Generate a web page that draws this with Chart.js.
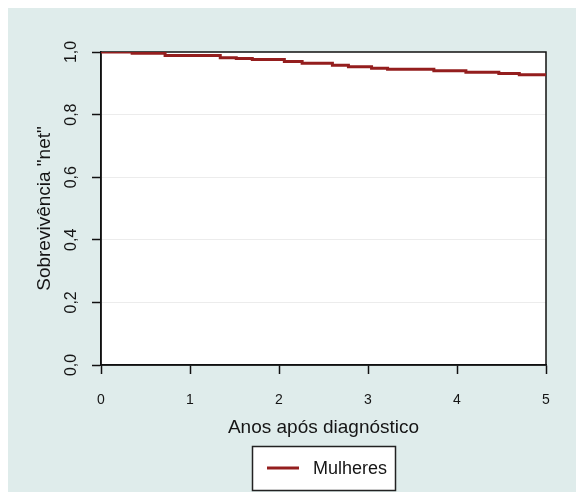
<!DOCTYPE html>
<html>
<head>
<meta charset="utf-8">
<script src="https://cdn.jsdelivr.net/npm/chart.js@4.4.1/dist/chart.umd.min.js"></script>
<style>
  html, body { margin: 0; padding: 0; background: #fff; }
  #wrap { position: relative; width: 576px; height: 492px; }
</style>
</head>
<body>
<div id="wrap"><canvas id="survChart" width="576" height="492"></canvas></div>
<script>
// tempos (anos) onde a curva muda e valor de sobrevivencia a partir desse tempo
const anos = [0, 0.35, 0.72, 1.34, 1.52, 1.70, 2.06, 2.26, 2.60, 2.78, 3.04, 3.22, 3.74, 4.10, 4.47, 4.70, 5.0];
const sobrevivencia = [1.000, 0.996, 0.989, 0.982, 0.979, 0.976, 0.970, 0.964, 0.958, 0.953, 0.948, 0.945, 0.940, 0.935, 0.931, 0.927, 0.927];
const serieNome = 'Mulheres';
const xTicks = [0, 1, 2, 3, 4, 5];
const yTicks = [0, 0.2, 0.4, 0.6, 0.8, 1.0];

const corLinha = '#941e1e';
const corTexto = '#151515';
const fonte = "'Liberation Sans', Arial, sans-serif";

// fundo do painel, area branca e moldura do grafico
const fundoPlugin = {
  id: 'fundo',
  beforeDraw(chart) {
    const { ctx, chartArea: a } = chart;
    ctx.save();
    ctx.fillStyle = '#ffffff';
    ctx.fillRect(0, 0, chart.width, chart.height);
    ctx.fillStyle = '#dfeceb';
    ctx.fillRect(8, 8, chart.width - 8, chart.height - 8);
    ctx.fillStyle = '#ffffff';
    ctx.fillRect(a.left, a.top, a.right - a.left, a.bottom - a.top);
    ctx.restore();
  },
  beforeDatasetsDraw(chart) {
    const { ctx, chartArea: a } = chart;
    ctx.save();
    ctx.strokeStyle = '#111';
    ctx.lineWidth = 1.5;
    ctx.strokeRect(a.left, a.top, a.right - a.left, a.bottom - a.top);
    ctx.restore();
  }
};

// legenda com caixa, como no R
const legendaPlugin = {
  id: 'legendaCaixa',
  afterDraw(chart) {
    const { ctx } = chart;
    const ds = chart.data.datasets[0];
    ctx.save();
    ctx.fillStyle = '#ffffff';
    ctx.fillRect(252, 446, 144, 44);
    ctx.strokeStyle = '#222';
    ctx.lineWidth = 1.5;
    ctx.strokeRect(252.5, 446.5, 143, 44);
    ctx.strokeStyle = ds.borderColor;
    ctx.lineWidth = 3;
    ctx.beginPath();
    ctx.moveTo(267, 468);
    ctx.lineTo(299, 468);
    ctx.stroke();
    ctx.fillStyle = corTexto;
    ctx.font = '18px ' + fonte;
    ctx.textBaseline = 'middle';
    ctx.fillText(ds.label, 313, 469);
    ctx.restore();
  }
};

const ctx = document.getElementById('survChart').getContext('2d');
new Chart(ctx, {
  type: 'line',
  data: {
    datasets: [{
      label: serieNome,
      data: anos.map((t, i) => ({ x: t, y: sobrevivencia[i] })),
      borderColor: corLinha,
      backgroundColor: corLinha,
      borderWidth: 3,
      stepped: 'before',
      pointRadius: 0,
      fill: false
    }]
  },
  options: {
    responsive: false,
    animation: false,
    layout: { padding: { left: 8, right: 30, top: 52, bottom: 0 } },
    plugins: {
      legend: { display: false },
      tooltip: { enabled: false }
    },
    scales: {
      x: {
        type: 'linear',
        min: 0,
        max: 5,
        afterFit(scale) { scale.height = 127; },
        afterBuildTicks(scale) { scale.ticks = xTicks.map(v => ({ value: v })); },
        grid: { drawOnChartArea: false, tickLength: 9, tickColor: '#111', tickWidth: 1.5 },
        border: { color: '#111', width: 1.5 },
        ticks: {
          color: corTexto,
          padding: 18,
          font: { family: fonte, size: 14 },
          callback: v => String(v)
        },
        title: {
          display: true,
          text: 'Anos após diagnóstico',
          color: corTexto,
          font: { family: fonte, size: 19 },
          padding: { top: 0, bottom: 53 }
        }
      },
      y: {
        min: 0,
        max: 1,
        afterFit(scale) { scale.width = 93; },
        afterBuildTicks(scale) { scale.ticks = yTicks.map(v => ({ value: v })); },
        grid: {
          color: c => (c.tick && c.tick.value > 0 && c.tick.value < 1) ? '#ececec' : 'rgba(0,0,0,0)',
          lineWidth: 1,
          tickLength: 9,
          tickColor: '#111',
          tickWidth: 1.5
        },
        border: { color: '#111', width: 1.5 },
        ticks: {
          color: corTexto,
          padding: 9,
          minRotation: 90,
          maxRotation: 90,
          crossAlign: 'center',
          font: { family: fonte, size: 16 },
          callback: v => Number(v).toFixed(1).replace('.', ',')
        },
        title: {
          display: true,
          text: 'Sobrevivência "net"',
          color: corTexto,
          font: { family: fonte, size: 19 },
          padding: { top: 25, bottom: 0 }
        }
      }
    }
  },
  plugins: [fundoPlugin, legendaPlugin]
});
</script>
</body>
</html>
